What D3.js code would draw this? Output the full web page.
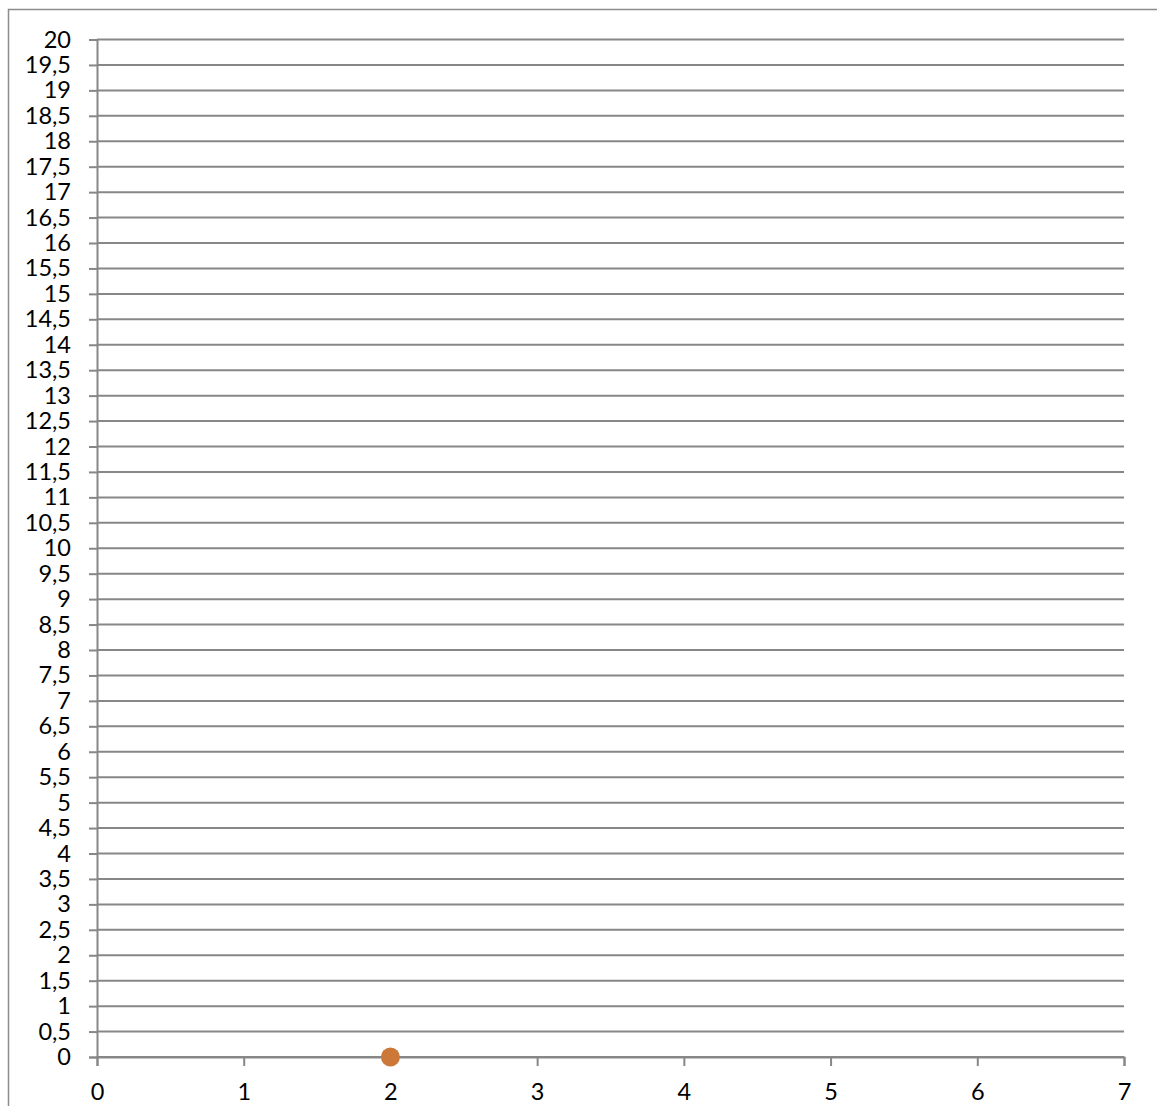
<!DOCTYPE html>
<html>
<head>
<meta charset="utf-8">
<script src="https://cdn.jsdelivr.net/npm/d3@7"></script>
<style>
  html, body { margin: 0; padding: 0; background: #fff; }
  svg { display: block; }
  text { font-family: Lato, "Open Sans", sans-serif; fill: #000; }
</style>
</head>
<body>
<svg id="chart" width="1157" height="1106"></svg>
<script>
// Axis ticks
const xTicks = [0, 1, 2, 3, 4, 5, 6, 7];
const yTicks = d3.range(0, 20.001, 0.5);
// Series values
const pointsX = [2];
const pointsY = [0];

const W = 1157, H = 1106;
const plot = { left: 97, right: 1124, top: 39.5, bottom: 1057 };

const svg = d3.select("#chart");

// Outer chart frame
svg.append("rect")
  .attr("x", 8.5).attr("y", 9.5)
  .attr("width", W + 20).attr("height", H + 20)
  .attr("fill", "#fff").attr("stroke", "#8c8c8c").attr("stroke-width", 1.5);

const x = d3.scaleLinear().domain([0, 7]).range([plot.left, plot.right]);
const y = d3.scaleLinear().domain([0, 20]).range([plot.bottom, plot.top]);

const fmt = d => String(d).replace(".", ",");

// Horizontal gridlines
svg.append("g")
  .selectAll("line")
  .data(yTicks)
  .join("line")
  .attr("x1", plot.left).attr("x2", plot.right)
  .attr("y1", d => y(d)).attr("y2", d => y(d))
  .attr("stroke", "#878787").attr("stroke-width", 2);

// Y axis
const yAxis = svg.append("g")
  .attr("transform", `translate(${plot.left},0)`)
  .call(d3.axisLeft(y).tickValues(yTicks).tickFormat(fmt).tickSize(8).tickPadding(18));
yAxis.select(".domain").attr("stroke", "#878787").attr("stroke-width", 2);
yAxis.selectAll(".tick line").attr("stroke", "#878787").attr("stroke-width", 2);
yAxis.selectAll(".tick text").attr("font-size", 23.5).attr("font-family", "Lato, sans-serif").attr("fill", "#000");

// X axis
const xAxis = svg.append("g")
  .attr("transform", `translate(0,${plot.bottom})`)
  .call(d3.axisBottom(x).tickValues(xTicks).tickFormat(fmt).tickSize(9).tickPadding(17));
xAxis.select(".domain").attr("stroke", "#878787").attr("stroke-width", 2);
xAxis.selectAll(".tick line").attr("stroke", "#878787").attr("stroke-width", 2);
xAxis.selectAll(".tick text").attr("font-size", 23.5).attr("font-family", "Lato, sans-serif").attr("fill", "#000");

// Data points
svg.append("g")
  .selectAll("circle")
  .data(pointsX.map((d, i) => [d, pointsY[i]]))
  .join("circle")
  .attr("cx", d => x(d[0])).attr("cy", d => y(d[1]))
  .attr("r", 9.5)
  .attr("fill", "#CC7838");
</script>
</body>
</html>
